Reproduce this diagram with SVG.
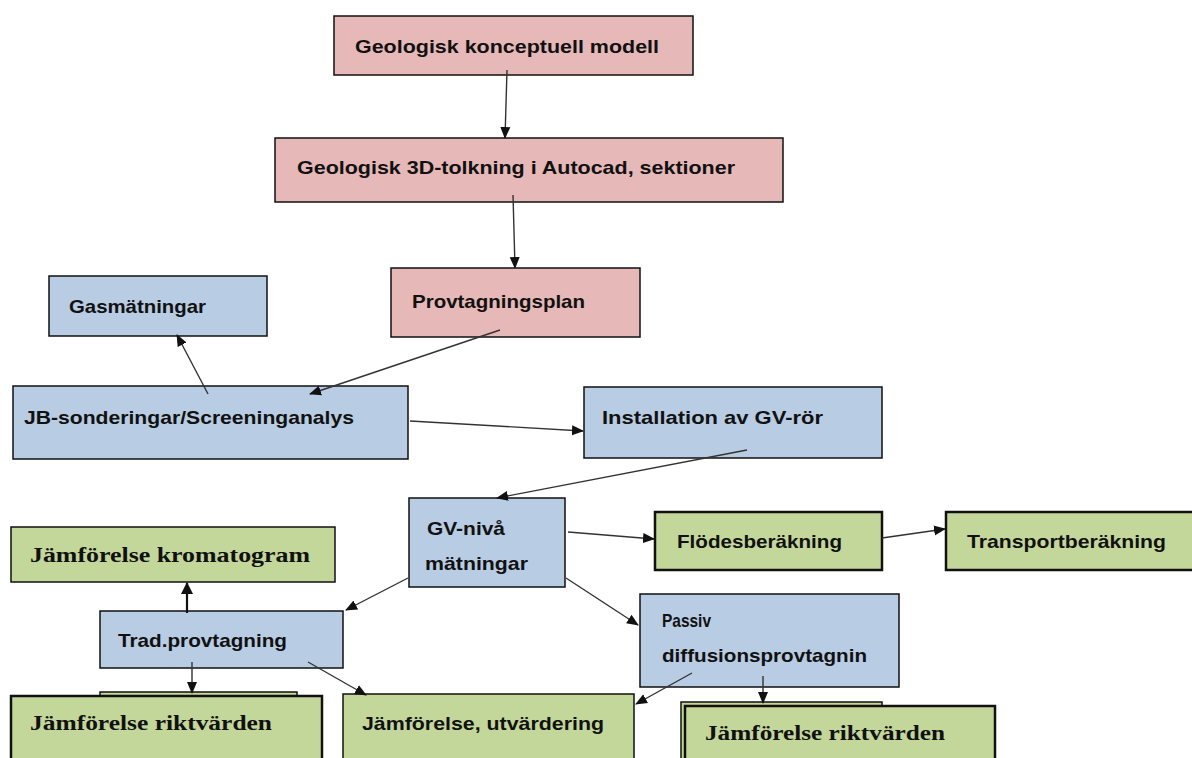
<svg xmlns="http://www.w3.org/2000/svg" width="1192" height="758" viewBox="0 0 1192 758">
<style>
.pink{fill:#E6B8B7;stroke:#111;stroke-width:1.5}
.blue{fill:#B8CCE4;stroke:#111;stroke-width:1.5}
.green{fill:#C4D79B;stroke:#111;stroke-width:1.5}
.greenb{fill:#C4D79B;stroke:#111;stroke-width:2.5}
.t{font-family:"Liberation Sans",Arial,sans-serif;font-weight:bold;font-size:19px;fill:#111}
.s{font-family:"Liberation Serif","Times New Roman",serif;font-weight:bold;font-size:21px;fill:#111}
.c{stroke:#333;stroke-width:1.4;fill:none;marker-end:url(#ah)}
.ct{stroke:#111;stroke-width:2.2;fill:none;marker-end:url(#ah2)}
</style>
<defs>
<marker id="ah" markerWidth="12" markerHeight="12" refX="11" refY="6" orient="auto" markerUnits="userSpaceOnUse"><path d="M0,1 L12,6 L0,11 Z" fill="#111"/></marker>
<marker id="ah2" markerWidth="12" markerHeight="12" refX="11" refY="6" orient="auto" markerUnits="userSpaceOnUse"><path d="M0,0 L12,6 L0,12 Z" fill="#111"/></marker>
</defs>
<rect width="1192" height="758" fill="#fff"/>
<g id="n1"><rect class="pink" x="334" y="16" width="359" height="59"/><text class="t" x="355" y="53" textLength="304" lengthAdjust="spacingAndGlyphs">Geologisk konceptuell modell</text></g>
<g id="n2"><rect class="pink" x="275" y="138" width="508" height="64"/><text class="t" x="297" y="174" textLength="438" lengthAdjust="spacingAndGlyphs">Geologisk 3D-tolkning i Autocad, sektioner</text></g>
<g id="n3"><rect class="pink" x="391" y="268" width="249" height="69"/><text class="t" x="412" y="308" textLength="173" lengthAdjust="spacingAndGlyphs">Provtagningsplan</text></g>
<g id="n4"><rect class="blue" x="49" y="276" width="218" height="60"/><text class="t" x="69" y="313" textLength="137" lengthAdjust="spacingAndGlyphs">Gasmätningar</text></g>
<g id="n5"><rect class="blue" x="13" y="386" width="395" height="73"/><text class="t" x="24" y="424" textLength="330" lengthAdjust="spacingAndGlyphs">JB-sonderingar/Screeninganalys</text></g>
<g id="n6"><rect class="blue" x="584" y="387" width="298" height="71"/><text class="t" x="602" y="424" textLength="221" lengthAdjust="spacingAndGlyphs">Installation av GV-rör</text></g>
<g id="n7"><rect class="blue" x="409" y="498" width="156" height="89"/><text class="t" x="427" y="535" textLength="78" lengthAdjust="spacingAndGlyphs">GV-nivå</text><text class="t" x="425" y="570" textLength="103" lengthAdjust="spacingAndGlyphs">mätningar</text></g>
<g id="n8"><rect class="greenb" x="655" y="512" width="227" height="58"/><text class="t" x="677" y="548" textLength="165" lengthAdjust="spacingAndGlyphs">Flödesberäkning</text></g>
<g id="n9"><rect class="greenb" x="946" y="512" width="254" height="58"/><text class="t" x="967" y="548" textLength="199" lengthAdjust="spacingAndGlyphs">Transportberäkning</text></g>
<g id="n10"><rect class="green" x="11" y="527" width="324" height="55"/><text class="s" x="30" y="562" textLength="280" lengthAdjust="spacingAndGlyphs">Jämförelse kromatogram</text></g>
<g id="n11"><rect class="blue" x="100" y="611" width="243" height="57"/><text class="t" x="118" y="647" textLength="169" lengthAdjust="spacingAndGlyphs">Trad.provtagning</text></g>
<g id="n12"><rect class="blue" x="640" y="594" width="259" height="93"/><text class="t" x="662" y="627" textLength="49" lengthAdjust="spacingAndGlyphs">Passiv</text><text class="t" x="662" y="662" textLength="205" lengthAdjust="spacingAndGlyphs">diffusionsprovtagnin</text></g>
<g id="n13"><rect x="100" y="692" width="197" height="10" fill="#C4D79B" stroke="#111" stroke-width="1.5"/><rect class="greenb" x="11" y="696" width="311" height="70"/><text class="s" x="30" y="730" textLength="242" lengthAdjust="spacingAndGlyphs">Jämförelse riktvärden</text></g>
<g id="n14"><rect class="green" x="343" y="694" width="291" height="70"/><text class="t" x="362" y="730" textLength="242" lengthAdjust="spacingAndGlyphs">Jämförelse, utvärdering</text></g>
<g id="n15"><rect x="681" y="702" width="201" height="60" fill="#C4D79B" stroke="#111" stroke-width="1.5"/><rect class="greenb" x="685" y="706" width="310" height="60"/><text class="s" x="705" y="740" textLength="240" lengthAdjust="spacingAndGlyphs">Jämförelse riktvärden</text></g>
<g id="connectors">
<line class="c" x1="507" y1="70" x2="505" y2="138"/>
<line class="c" x1="513" y1="195" x2="515" y2="268"/>
<line class="c" x1="500" y1="330" x2="310" y2="394"/>
<line class="c" x1="208" y1="394" x2="177" y2="335"/>
<line class="c" x1="410" y1="421" x2="583" y2="431"/>
<line class="c" x1="747" y1="450" x2="497" y2="498"/>
<line class="c" x1="568" y1="532" x2="654" y2="539"/>
<line class="c" x1="882" y1="538" x2="945" y2="529"/>
<line class="c" x1="408" y1="578" x2="346" y2="610"/>
<line class="c" x1="566" y1="578" x2="638" y2="625"/>
<line class="ct" x1="187" y1="613" x2="187" y2="583"/>
<line class="c" x1="192" y1="662" x2="192" y2="693"/>
<line class="c" x1="308" y1="662" x2="366" y2="695"/>
<line class="c" x1="692" y1="673" x2="636" y2="704"/>
<line class="c" x1="763" y1="676" x2="763" y2="703"/>
</g>
</svg>
